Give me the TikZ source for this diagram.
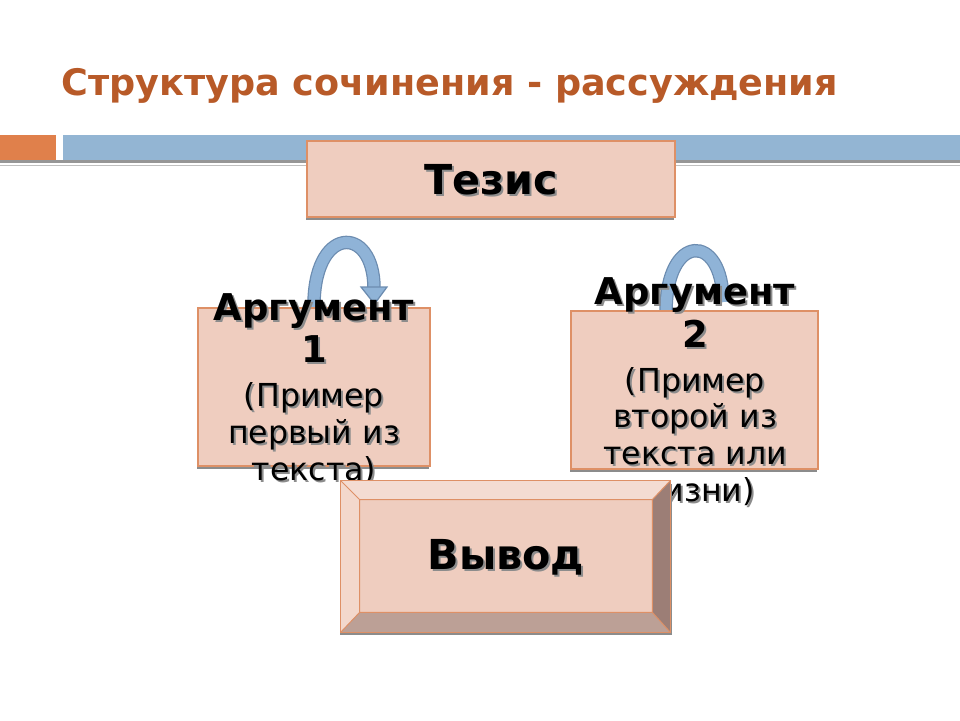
\documentclass[tikz,border=0pt]{standalone}
\usepackage{fontspec}
\setmainfont{DejaVu Sans}
\usetikzlibrary{calc,positioning,shadows}

\definecolor{titlebrown}{RGB}{184,90,40}
\definecolor{barorange}{RGB}{224,128,75}
\definecolor{barblue}{RGB}{147,181,211}
\definecolor{linegray}{RGB}{150,150,150}
\definecolor{boxfill}{RGB}{239,205,191}
\definecolor{boxedge}{RGB}{222,144,102}
\definecolor{boxshadow}{RGB}{140,140,140}
\definecolor{txtshadow}{RGB}{140,140,140}
\definecolor{arrowfill}{RGB}{143,179,215}
\definecolor{arrowedge}{RGB}{108,140,176}
\definecolor{beveltop}{RGB}{244,220,210}
\definecolor{bevelleft}{RGB}{243,216,204}
\definecolor{bevelright}{RGB}{156,126,118}
\definecolor{bevelbottom}{RGB}{188,160,150}

\tikzset{
  slidebox/.style={draw=boxedge,fill=boxfill,line width=0.03cm,
    drop shadow={shadow xshift=-0.02cm,shadow yshift=-0.06cm,fill=boxshadow,opacity=1}},
  argtext/.style={align=center,font=\fontsize{18}{21}\selectfont},
  bigtext/.style={font=\fontsize{23.5}{27}\selectfont\bfseries},
  loopband/.style={draw=arrowedge,double=arrowfill,double distance=0.22cm,line width=0.025cm},
  loophead/.style={draw=arrowedge,fill=arrowfill,line width=0.025cm}
}

% bold heading lines inside the argument boxes
\newcommand{\arghead}[1]{{\fontsize{21}{25}\selectfont\bfseries #1}}

% text with a grey copy just behind it
\newcommand{\shadowlabel}[4]{%
  \node[#3,text=txtshadow] at ([shift={(2,2)}]#2) {#4};
  \node[#3] (#1) at (#2) {#4};}

\begin{document}
\begin{tikzpicture}[x=0.02cm,y=-0.02cm]
  \useasboundingbox (0,0) rectangle (960,720);

  % title and bars
  \node[anchor=west,text=titlebrown,font=\fontsize{20.8}{24}\selectfont\bfseries]
    (title) at (55,86) {Структура сочинения - рассуждения};
  \fill[barorange] (0,135) rectangle (56,160);
  \fill[barblue] (63,135) rectangle (960,160);
  \fill[linegray] (0,160) rectangle (960,162.5);
  \fill[linegray!60] (0,164.5) rectangle (960,166);

  % loop arrows
  \draw[loopband] (314,310) .. controls (312,224) and (374,224) .. (374,288);
  \fill[loophead] (361,287) -- (387,287) -- (374.5,304) -- cycle;
  \draw[loopband] (666,312) .. controls (666,232) and (723,232) .. (723,302);

  % boxes
  \node[slidebox,minimum width=7.36cm,minimum height=1.52cm] (thesis) at (491,179) {};
  \node[slidebox,minimum width=4.64cm,minimum height=3.16cm] (arg1) at (314,387) {};
  \node[slidebox,minimum width=4.94cm,minimum height=3.16cm] (arg2) at (694.5,390) {};

  \shadowlabel{thesislabel}{491,180}{bigtext}{Тезис}
  \shadowlabel{arg1label}{314,389}{argtext}{\arghead{Аргумент}\\[3pt]\arghead{1}\\[4pt](Пример\\первый из\\текста)}
  \shadowlabel{arg2label}{695,392}{argtext}{\arghead{Аргумент}\\[3pt]\arghead{2}\\[4pt](Пример\\второй из\\текста или\\жизни)}

  % conclusion, bevelled
  \node[minimum width=6.58cm,minimum height=3.02cm,inner sep=0pt] (concl) at (505.5,556.5) {};
  \fill[boxshadow] ([shift={(-1,3)}]concl.north west) rectangle ([shift={(2,3)}]concl.south east);
  \coordinate (cin1) at ([shift={(19,19)}]concl.north west);
  \coordinate (cin2) at ([shift={(-18,19)}]concl.north east);
  \coordinate (cin3) at ([shift={(-18,-20)}]concl.south east);
  \coordinate (cin4) at ([shift={(19,-20)}]concl.south west);
  \fill[beveltop] (concl.north west) -- (concl.north east) -- (cin2) -- (cin1) -- cycle;
  \fill[bevelleft] (concl.north west) -- (cin1) -- (cin4) -- (concl.south west) -- cycle;
  \fill[bevelright] (concl.north east) -- (concl.south east) -- (cin3) -- (cin2) -- cycle;
  \fill[bevelbottom] (concl.south west) -- (cin4) -- (cin3) -- (concl.south east) -- cycle;
  \fill[boxfill] (cin1) rectangle (cin3);
  \draw[boxedge,line width=0.03cm] (concl.north west) rectangle (concl.south east);
  \draw[boxedge,line width=0.02cm] (cin1) rectangle (cin3)
    (concl.north west) -- (cin1) (concl.north east) -- (cin2)
    (concl.south east) -- (cin3) (concl.south west) -- (cin4);
  \shadowlabel{concllabel}{506,557}{bigtext}{Вывод}
\end{tikzpicture}
\end{document}
